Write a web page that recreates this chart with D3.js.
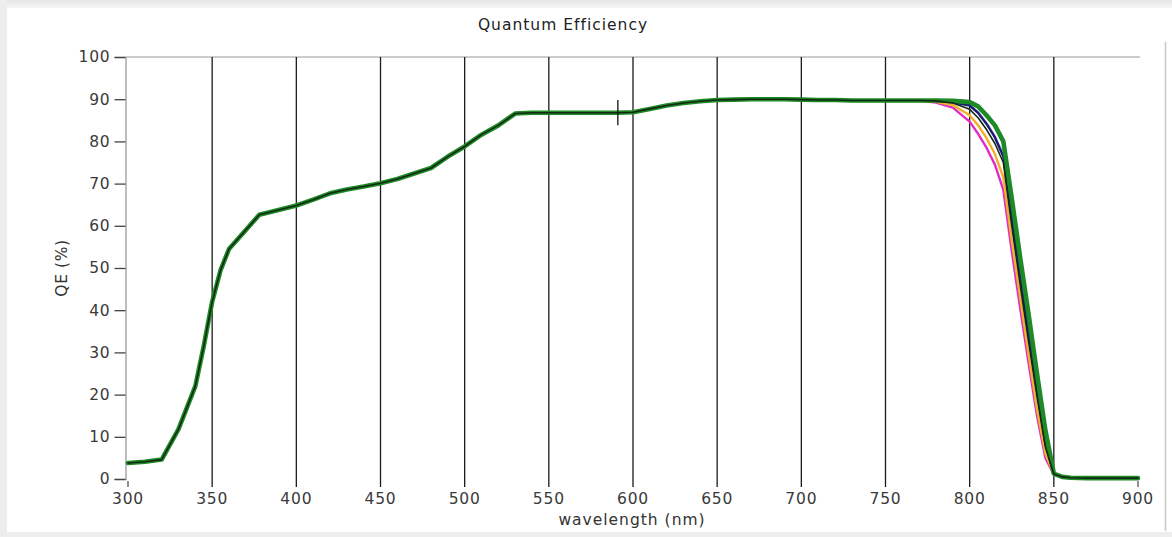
<!DOCTYPE html>
<html>
<head>
<meta charset="utf-8">
<script src="https://cdn.jsdelivr.net/npm/d3@7"></script>
<style>
  html, body { margin: 0; padding: 0; background: #fff; }
  svg { display: block; font-family: "DejaVu Sans", Verdana, sans-serif; }
</style>
</head>
<body>
<svg id="chart" width="1172" height="537"></svg>
<script>
// Shared part of the QE curves (all sensors coincide below ~775 nm)
const baseWavelength = [300, 310, 320, 330, 340, 345, 350, 355, 360, 370, 378, 390, 400, 410, 420, 430, 440,
  450, 460, 470, 480, 490, 500, 510, 520, 530, 540, 550, 560, 570, 580, 590, 600, 610, 620, 630,
  640, 650, 660, 670, 680, 690, 700, 710, 720, 730, 740, 750, 760, 770];
const baseQE = [3.8, 4.1, 4.6, 11.8, 22.0, 31.5, 42.0, 49.5, 54.5, 59.0, 62.6, 63.8, 64.8, 66.2, 67.7, 68.6, 69.3,
  70.1, 71.1, 72.4, 73.7, 76.4, 78.8, 81.6, 83.8, 86.6, 86.8, 86.8, 86.8, 86.8, 86.8, 86.8, 86.9, 87.7, 88.5, 89.1,
  89.5, 89.8, 89.9, 90.0, 90.0, 90.0, 89.9, 89.8, 89.8, 89.7, 89.7, 89.7, 89.7, 89.7];

// NIR roll-off, where the curves separate
const tailWavelength = [780, 790, 800, 805, 810, 815, 820, 825, 830, 835, 840, 845, 850, 855, 860, 870, 880, 890, 900];
const qeMagenta = [89.2, 88.0, 84.7, 81.8, 78.5, 74.5, 68.5, 54.0, 40.5, 27.5, 15.0, 5.0, 1.0, 0.5, 0.3, 0.2, 0.2, 0.2, 0.2];
const qeOrange  = [89.4, 88.6, 86.2, 83.8, 80.8, 77.0, 71.5, 56.5, 43.0, 29.5, 16.5, 6.0, 1.1, 0.5, 0.3, 0.2, 0.2, 0.2, 0.2];
const qeNavy    = [89.6, 89.3, 88.5, 86.8, 84.2, 81.0, 76.5, 62.0, 48.0, 34.5, 21.0, 8.5, 1.2, 0.5, 0.3, 0.2, 0.2, 0.2, 0.2];
const qeGreen   = [89.7, 89.6, 89.3, 88.3, 86.2, 83.8, 80.0, 66.5, 52.5, 39.0, 25.0, 11.5, 1.3, 0.5, 0.3, 0.2, 0.2, 0.2, 0.2];
const qeBlack   = [89.6, 89.1, 87.6, 85.6, 82.8, 79.5, 75.0, 60.0, 46.0, 32.5, 19.5, 7.5, 1.2, 0.5, 0.3, 0.2, 0.2, 0.2, 0.2];

const xTicks = [300, 350, 400, 450, 500, 550, 600, 650, 700, 750, 800, 850, 900];
const yTicks = [0, 10, 20, 30, 40, 50, 60, 70, 80, 90, 100];
const gridWavelengths = [350, 400, 450, 500, 550, 600, 650, 700, 750, 800, 850];
const cursorWavelength = 591;

const titleText = "Quantum Efficiency";
const xLabel = "wavelength (nm)";
const yLabel = "QE (%)";

// drawing order and styling of the traces
const traces = [
  { values: qeMagenta, color: "#e02cc8", width: 2.4 },
  { values: qeOrange,  color: "#f2b12a", width: 2.4 },
  { values: qeNavy,    color: "#1c1a7a", width: 2.6 },
  { values: qeGreen,   color: "#1d8a26", width: 4.6 },
  { values: qeBlack,   color: "#142814", width: 1.6 }
];

const svg = d3.select("#chart");
const W = 1172, H = 537;

// window frame
svg.append("rect").attr("x", 0).attr("y", 0).attr("width", W).attr("height", H).attr("fill", "#fff");
const grad = svg.append("defs").append("linearGradient").attr("id", "topband").attr("x1", 0).attr("y1", 0).attr("x2", 0).attr("y2", 1);
grad.append("stop").attr("offset", "0%").attr("stop-color", "#e6e6e6");
grad.append("stop").attr("offset", "100%").attr("stop-color", "#f4f4f4");
svg.append("rect").attr("x", 0).attr("y", 0).attr("width", W).attr("height", 8).attr("fill", "url(#topband)");
svg.append("rect").attr("x", 0).attr("y", 0).attr("width", 7).attr("height", H).attr("fill", "#ededed");
svg.append("rect").attr("x", 0).attr("y", 532).attr("width", W).attr("height", 5).attr("fill", "#ededed");
svg.append("line").attr("x1", 1165.5).attr("x2", 1165.5).attr("y1", 42).attr("y2", 531)
  .attr("stroke", "#c8c8c8").attr("stroke-width", 1.5);

const x = d3.scaleLinear().domain([300, 900]).range([128, 1138]);
const y = d3.scaleLinear().domain([0, 100]).range([479, 57]);

// top frame line
svg.append("line").attr("x1", 126).attr("x2", 1140).attr("y1", y(100)).attr("y2", y(100))
  .attr("stroke", "#9a9a9a").attr("stroke-width", 1.2);

// vertical grid lines, running slightly below the plot as ticks
svg.append("g").selectAll("line").data(gridWavelengths).join("line")
  .attr("x1", d => x(d)).attr("x2", d => x(d))
  .attr("y1", y(100)).attr("y2", y(0) + 8)
  .attr("stroke", "#1a1a1a").attr("stroke-width", 1.3);

// end ticks on the x axis
svg.append("g").selectAll("line").data(xTicks.filter(d => !gridWavelengths.includes(d))).join("line")
  .attr("x1", d => x(d)).attr("x2", d => x(d))
  .attr("y1", y(0) + 2).attr("y2", y(0) + 8)
  .attr("stroke", "#444").attr("stroke-width", 1.2);

// x tick labels
svg.append("g").selectAll("text").data(xTicks).join("text")
  .attr("x", d => x(d)).attr("y", 504)
  .attr("text-anchor", "middle")
  .attr("font-size", 15.5).attr("letter-spacing", 0.8).attr("fill", "#3a3a3a")
  .text(d => d);

// y axis
const yAxis = d3.axisLeft(y).tickValues(yTicks).tickSize(11).tickPadding(4);
const gy = svg.append("g").attr("transform", "translate(125.5,0)").call(yAxis);
gy.select(".domain").attr("stroke", "#9a9a9a").attr("stroke-width", 1.3);
gy.selectAll(".tick line").attr("stroke", "#444").attr("stroke-width", 1.3);
gy.selectAll(".tick text").attr("font-size", 15.5).attr("letter-spacing", 0.8).attr("fill", "#3a3a3a")
  .attr("font-family", "'DejaVu Sans', Verdana, sans-serif");

// titles
svg.append("text").attr("x", 563).attr("y", 30).attr("text-anchor", "middle")
  .attr("font-size", 15.5).attr("letter-spacing", 1).attr("fill", "#222").text(titleText);
svg.append("text").attr("x", 632).attr("y", 525).attr("text-anchor", "middle")
  .attr("font-size", 15.5).attr("letter-spacing", 1).attr("fill", "#333").text(xLabel);
svg.append("text").attr("transform", "translate(67,268) rotate(-90)").attr("text-anchor", "middle")
  .attr("font-size", 15.5).attr("letter-spacing", 0.6).attr("fill", "#333").text(yLabel);

// QE traces
const line = d3.line().x(d => x(d[0])).y(d => y(d[1])).curve(d3.curveLinear);
const baseRows = baseWavelength.map((w, i) => [w, baseQE[i]]);
svg.append("g").selectAll("path").data(traces).join("path")
  .attr("d", t => line(baseRows.concat(tailWavelength.map((w, i) => [w, t.values[i]]))))
  .attr("fill", "none")
  .attr("stroke", t => t.color)
  .attr("stroke-width", t => t.width)
  .attr("stroke-linejoin", "round")
  .attr("stroke-linecap", "round");

// cursor marker on the curve
const cursorQE = baseQE[baseWavelength.indexOf(590)];
svg.append("line")
  .attr("x1", x(cursorWavelength)).attr("x2", x(cursorWavelength))
  .attr("y1", y(cursorQE + 3)).attr("y2", y(cursorQE - 3))
  .attr("stroke", "#111").attr("stroke-width", 1.3);
</script>
</body>
</html>
